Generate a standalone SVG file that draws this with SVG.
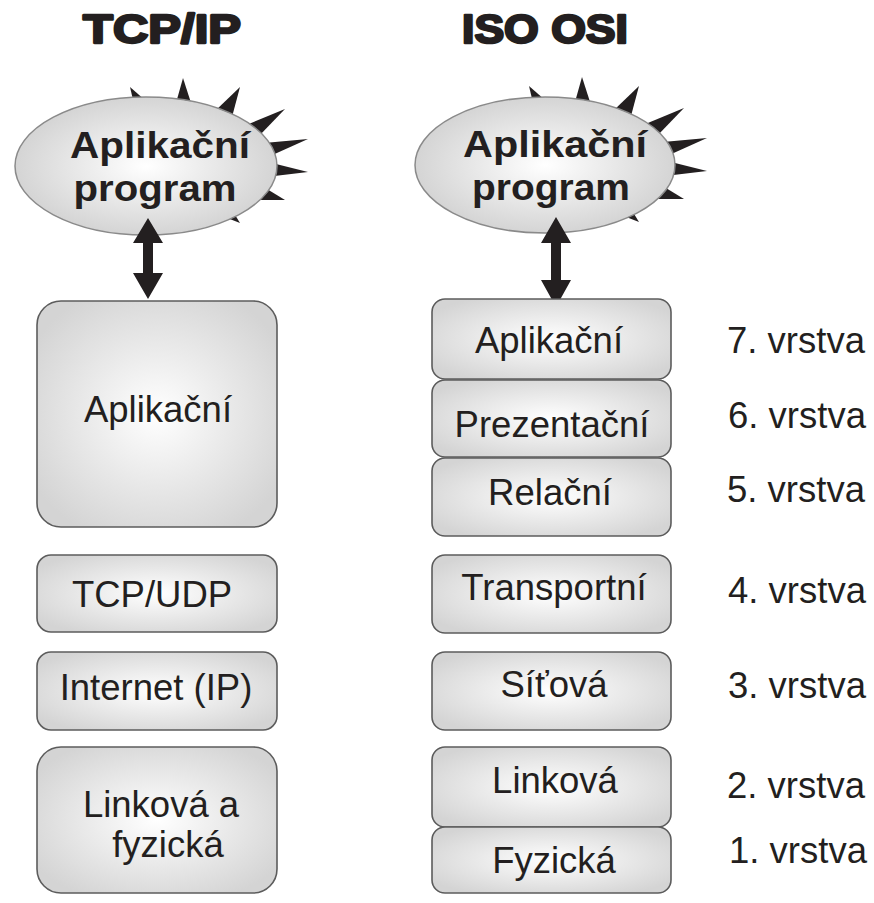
<svg xmlns="http://www.w3.org/2000/svg" width="874" height="903" viewBox="0 0 874 903">
<defs>
<radialGradient id="gBox" cx="50%" cy="50%" r="60%">
<stop offset="0" stop-color="#ffffff"/>
<stop offset="1" stop-color="#d4d4d4"/>
</radialGradient>
<radialGradient id="gEll" cx="50%" cy="50%" r="55%">
<stop offset="0" stop-color="#ffffff"/>
<stop offset="1" stop-color="#d0d0d0"/>
</radialGradient>
<g id="burst">
<polygon points="130,87 134,104 146,101"/>
<polygon points="183,78 176,103 192,106"/>
<polygon points="240,87 214,112 232,117"/>
<polygon points="285,109 244,126 258,137"/>
<polygon points="308,139 264,143 268,157"/>
<polygon points="308,172 268,162 266,177"/>
<polygon points="285,200 262,186 255,200"/>
<polygon points="240,223 232,210 222,216"/>
</g>
</defs>
<style>
.title{font-family:"Liberation Sans",Arial,sans-serif;font-weight:bold;font-size:40px;fill:#231f20;stroke:#231f20;stroke-width:2.4px;stroke-linejoin:round;text-anchor:middle}
.ell{fill:url(#gEll);stroke:#8a8a8a;stroke-width:1.5}
.burst{fill:#231f20}
.etxt{font-family:"Liberation Sans",Arial,sans-serif;font-weight:bold;font-size:37px;fill:#231f20;text-anchor:middle}
.box{fill:url(#gBox);stroke:#5c5c5c;stroke-width:1.6}
.btxt{font-family:"Liberation Sans",Arial,sans-serif;font-size:36.5px;fill:#231f20;text-anchor:middle}
.ltxt{font-family:"Liberation Sans",Arial,sans-serif;font-size:36.5px;fill:#231f20}
.arr{fill:#231f20}
</style>
<rect width="874" height="903" fill="#ffffff"/>

<g id="title-tcpip"><text class="title" x="162" y="43" textLength="158" lengthAdjust="spacingAndGlyphs">TCP/IP</text></g>
<g id="title-isoosi"><text class="title" x="545" y="43" textLength="166" lengthAdjust="spacingAndGlyphs">ISO OSI</text></g>

<g id="app-program-tcpip">
<use href="#burst" class="burst"/>
<ellipse class="ell" cx="146" cy="166" rx="131" ry="69"/>
<text class="etxt" x="160" y="158" textLength="180" lengthAdjust="spacingAndGlyphs">Aplikační</text>
<text class="etxt" x="155" y="201" textLength="163" lengthAdjust="spacingAndGlyphs">program</text>
</g>
<g id="app-program-osi">
<use href="#burst" class="burst" transform="translate(399,-1)"/>
<ellipse class="ell" cx="545" cy="165" rx="130" ry="68"/>
<text class="etxt" x="555" y="157" textLength="184" lengthAdjust="spacingAndGlyphs">Aplikační</text>
<text class="etxt" x="551" y="200" textLength="158" lengthAdjust="spacingAndGlyphs">program</text>
</g>

<g id="connectors">
<polygon class="arr" points="148,218 163,243 153,243 153,273 163,273 148,299 133,273 143,273 143,243 133,243"/>
<polygon class="arr" points="556,217 571,243 561,243 561,280 571,280 556,307 541,280 551,280 551,243 541,243"/>
</g>

<g id="tcpip-aplikacni"><rect class="box" x="37" y="301" width="240" height="226" rx="24"/><text class="btxt" x="158" y="422">Aplikační</text></g>
<g id="tcpip-tcpudp"><rect class="box" x="37" y="555" width="240" height="77" rx="14"/><text class="btxt" x="152" y="607">TCP/UDP</text></g>
<g id="tcpip-internet"><rect class="box" x="37" y="652" width="240" height="78" rx="14"/><text class="btxt" x="156" y="700">Internet (IP)</text></g>
<g id="tcpip-linkova"><rect class="box" x="37" y="747" width="240" height="146" rx="24"/><text class="btxt" x="161" y="817">Linková a</text><text class="btxt" x="168" y="857">fyzická</text></g>

<g id="osi-7"><rect class="box" x="432" y="299" width="239" height="80" rx="13"/><text class="btxt" x="549" y="353">Aplikační</text></g>
<g id="osi-6"><rect class="box" x="432" y="380" width="239" height="77" rx="13"/><text class="btxt" x="552" y="437">Prezentační</text></g>
<g id="osi-5"><rect class="box" x="432" y="458" width="239" height="78" rx="13"/><text class="btxt" x="550" y="505">Relační</text></g>
<g id="osi-4"><rect class="box" x="432" y="555" width="239" height="78" rx="13"/><text class="btxt" x="554" y="600">Transportní</text></g>
<g id="osi-3"><rect class="box" x="432" y="652" width="239" height="78" rx="13"/><text class="btxt" x="554" y="697">Síťová</text></g>
<g id="osi-2"><rect class="box" x="432" y="747" width="239" height="80" rx="13"/><text class="btxt" x="555" y="793">Linková</text></g>
<g id="osi-1"><rect class="box" x="432" y="827" width="239" height="66" rx="13"/><text class="btxt" x="554" y="873">Fyzická</text></g>

<g id="layer-labels">
<text class="ltxt" x="727" y="353">7. vrstva</text>
<text class="ltxt" x="728" y="428">6. vrstva</text>
<text class="ltxt" x="727" y="502">5. vrstva</text>
<text class="ltxt" x="728" y="603">4. vrstva</text>
<text class="ltxt" x="728" y="698">3. vrstva</text>
<text class="ltxt" x="727" y="798">2. vrstva</text>
<text class="ltxt" x="729" y="863">1. vrstva</text>
</g>
</svg>
